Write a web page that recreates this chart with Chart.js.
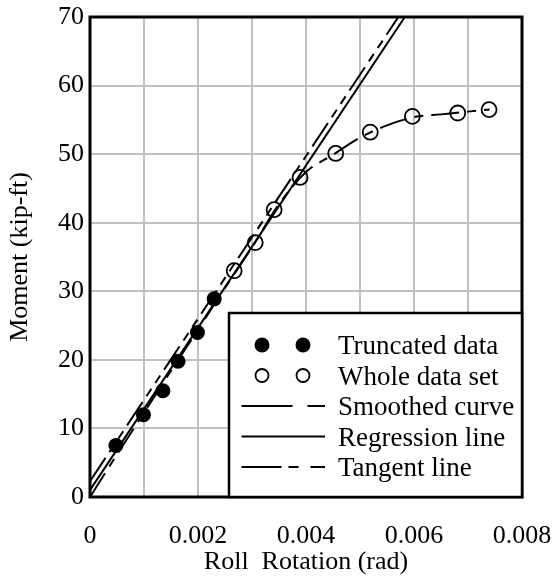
<!DOCTYPE html>
<html><head><meta charset="utf-8">
<script src="https://cdn.jsdelivr.net/npm/chart.js@4/dist/chart.umd.min.js"></script>
<style>html,body{margin:0;padding:0;background:#fff;} canvas{display:block;}</style>
</head><body>
<canvas id="c" width="555" height="579"></canvas>
<script>
// ---- data ----
const truncRot = [0.00048, 0.00099, 0.00135, 0.00163, 0.00199, 0.00230];
const truncMom = [7.5, 12.0, 15.5, 19.8, 24.0, 28.9];
const wholeRot = [0.00267, 0.00306, 0.00341, 0.00389, 0.00455, 0.00519, 0.00597, 0.00681, 0.00739];
const wholeMom = [33.0, 37.1, 41.9, 46.6, 50.1, 53.2, 55.5, 56.0, 56.5];
const smoothRot = [0, 0.0005, 0.001, 0.0015, 0.002, 0.0025, 0.003, 0.0035, 0.004, 0.0045, 0.005, 0.0055, 0.006, 0.0065, 0.007, 0.0074];
const smoothMom = [0, 6.2, 12.3, 18.4, 24.4, 30.5, 36.4, 42.7, 47.4, 49.9, 52.4, 54.2, 55.4, 55.8, 56.2, 56.5];
const regRot = [0, 0.00583];
const regMom = [1.0, 70];
const tanRot = [0, 0.00571];
const tanMom = [2.3, 70];
const xLabelTicks = [0, 0.002, 0.004, 0.006, 0.008];
const seriesLabels = ['Truncated data', 'Whole data set', 'Smoothed curve', 'Regression line', 'Tangent line'];

const FONT = '"Liberation Serif", "Times New Roman", serif';
const pts = (xs, ys) => xs.map((x, i) => ({x: x, y: ys[i]}));

const smoothDash = [28, 8, 9, 8];
const tanDash = [28, 7, 9, 7, 9, 7];

const frameAndLegend = {
  id: 'frameAndLegend',
  afterDraw(chart) {
    const ctx = chart.ctx;
    const a = chart.chartArea;
    ctx.save();
    // plot frame
    ctx.strokeStyle = '#000';
    ctx.lineWidth = 3;
    ctx.setLineDash([]);
    ctx.strokeRect(a.left, a.top, a.right - a.left, a.bottom - a.top);
    // legend box
    const L = a.right - 293, T = a.bottom - 184, R = a.right, B = a.bottom;
    ctx.fillStyle = '#fff';
    ctx.fillRect(L, T, R - L, B - T);
    ctx.lineWidth = 2.5;
    ctx.strokeRect(L, T, R - L, B - T);
    const rowY = i => T + 32 + i * 30.5;
    ctx.font = '27px ' + FONT;
    ctx.fillStyle = '#000';
    ctx.textBaseline = 'alphabetic';
    ctx.textAlign = 'left';
    seriesLabels.forEach((lab, i) => {
      ctx.fillStyle = '#000';
      ctx.fillText(lab, L + 109, rowY(i) + 9);
    });
    // markers
    [[0, true], [1, false]].forEach(([i, filled]) => {
      const y = rowY(i);
      [L + 33, L + 74].forEach(x => {
        ctx.beginPath();
        ctx.arc(x, y, filled ? 7.5 : 6.5, 0, Math.PI * 2);
        if (filled) { ctx.fillStyle = '#000'; ctx.fill(); }
        else { ctx.lineWidth = 1.8; ctx.strokeStyle = '#000'; ctx.stroke(); }
      });
    });
    // line samples
    [2, 3, 4].forEach(i => {
      const y = rowY(i);
      ctx.beginPath();
      ctx.setLineDash(i === 2 ? [51, 15, 18, 0] : (i === 4 ? [40, 7, 10, 12, 15, 0] : []));
      ctx.lineWidth = 2;
      ctx.strokeStyle = '#000';
      ctx.moveTo(L + 12.5, y);
      ctx.lineTo(L + 96, y);
      ctx.stroke();
    });
    ctx.restore();
  }
};

new Chart(document.getElementById('c'), {
  type: 'scatter',
  data: {
    datasets: [
      { label: seriesLabels[0], data: pts(truncRot, truncMom), showLine: false,
        pointRadius: 7.5, pointBackgroundColor: '#000', pointBorderColor: '#000', pointBorderWidth: 0 },
      { label: seriesLabels[1], data: pts(wholeRot, wholeMom), showLine: false,
        pointRadius: 7.5, pointBackgroundColor: 'rgba(0,0,0,0)', pointBorderColor: '#000', pointBorderWidth: 1.8 },
      { label: seriesLabels[2], data: pts(smoothRot, smoothMom), showLine: true, pointRadius: 0,
        borderColor: '#000', borderWidth: 2, borderDash: smoothDash, cubicInterpolationMode: 'monotone' },
      { label: seriesLabels[3], data: pts(regRot, regMom), showLine: true, pointRadius: 0,
        borderColor: '#000', borderWidth: 2 },
      { label: seriesLabels[4], data: pts(tanRot, tanMom), showLine: true, pointRadius: 0,
        borderColor: '#000', borderWidth: 2, borderDash: tanDash }
    ]
  },
  options: {
    responsive: false,
    animation: false,
    devicePixelRatio: 1,
    layout: { padding: { top: 17, right: 33, left: 0, bottom: 0 } },
    plugins: { legend: { display: false }, tooltip: { enabled: false } },
    scales: {
      x: {
        type: 'linear', min: 0, max: 0.008,
        afterFit(s) { s.height = 82; s.paddingLeft = 0; s.paddingRight = 0; },
        border: { display: false },
        grid: { color: '#c0c0c0', lineWidth: 2, drawTicks: false },
        ticks: {
          stepSize: 0.001, autoSkip: false, maxRotation: 0, padding: 24, color: '#000',
          font: { family: FONT, size: 26 },
          callback: v => xLabelTicks.some(t => Math.abs(t - v) < 1e-9) ? (Math.abs(v) < 1e-12 ? '0' : v.toFixed(3)) : ''
        },
        title: { display: true, text: 'Roll  Rotation (rad)', color: '#000',
          font: { family: FONT, size: 26 }, padding: { top: 0, bottom: 1 } }
      },
      y: {
        type: 'linear', min: 0, max: 70,
        afterFit(s) { s.width = 90; s.paddingTop = 0; s.paddingBottom = 0; },
        border: { display: false },
        grid: { color: '#c0c0c0', lineWidth: 2, drawTicks: false },
        ticks: { stepSize: 10, padding: 6, color: '#000', font: { family: FONT, size: 26 } },
        title: { display: true, text: 'Moment (kip-ft)', color: '#000',
          font: { family: FONT, size: 26 }, padding: { top: 5, bottom: 0 } }
      }
    }
  },
  plugins: [frameAndLegend]
});
</script>
</body></html>
